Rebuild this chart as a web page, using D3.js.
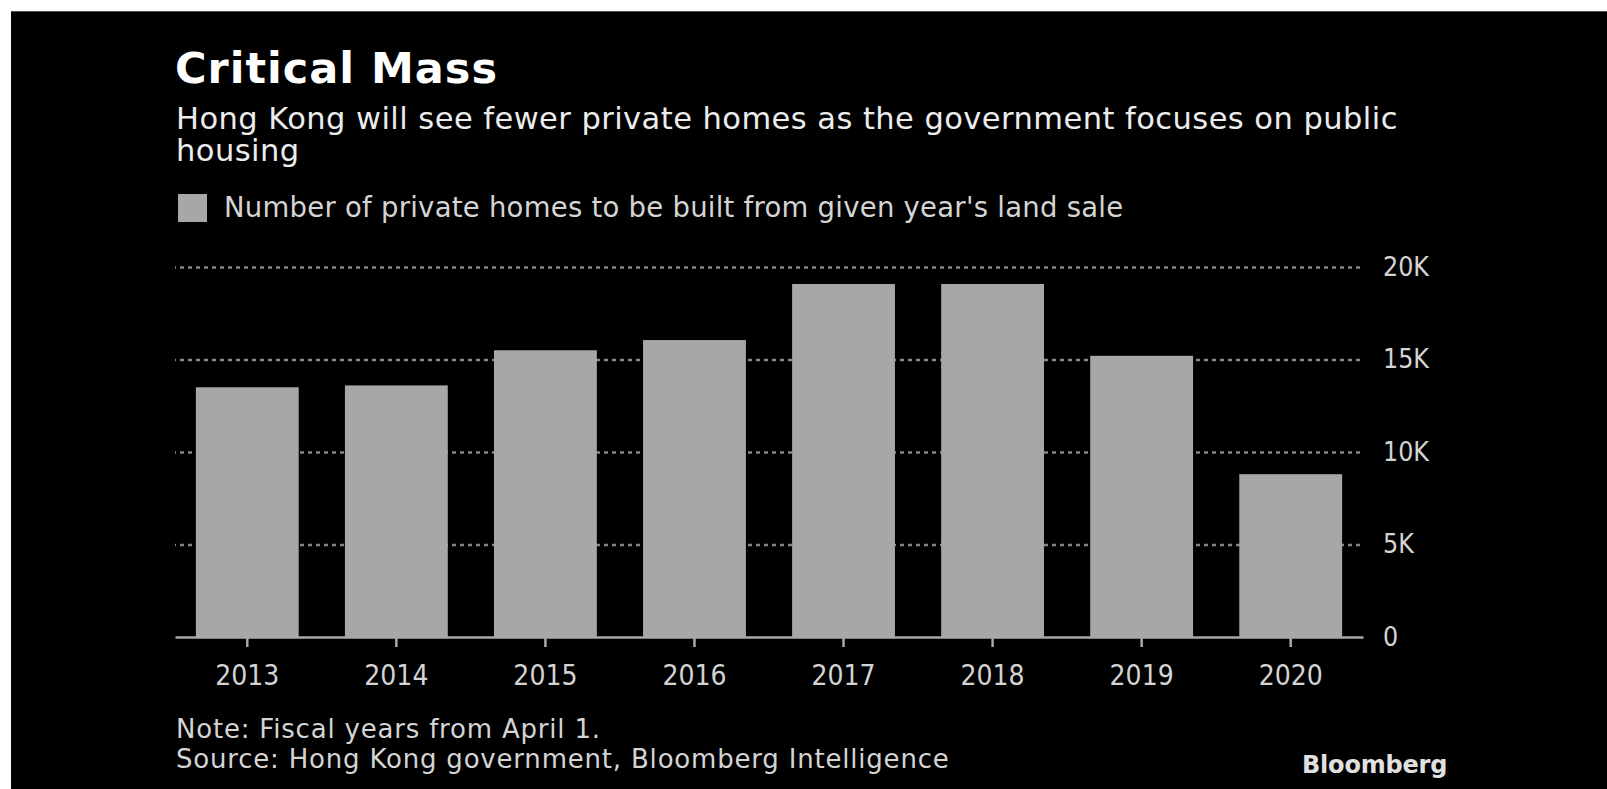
<!DOCTYPE html>
<html>
<head>
<meta charset="utf-8">
<script src="https://cdn.jsdelivr.net/npm/d3@7"></script>
<style>
  html, body { margin: 0; padding: 0; background: #fff; }
  svg { display: block; }
  .cond { font-family: "DejaVu Sans Condensed", "DejaVu Sans", sans-serif; font-stretch: condensed; }
  .reg { font-family: "DejaVu Sans", sans-serif; }
</style>
</head>
<body>
<svg id="chart"></svg>
<script>
// chart data
const years = ["2013", "2014", "2015", "2016", "2017", "2018", "2019", "2020"];
const homes = [13500, 13600, 15500, 16050, 19080, 19080, 15200, 8800];
const yTicks = [0, 5000, 10000, 15000, 20000];

const title = "Critical Mass";
const subtitle = ["Hong Kong will see fewer private homes as the government focuses on public", "housing"];
const legendLabel = "Number of private homes to be built from given year's land sale";
const notes = ["Note: Fiscal years from April 1.", "Source: Hong Kong government, Bloomberg Intelligence"];

const W = 1607, H = 789;
const plotLeft = 175, plotRight = 1363, gridRight = 1360;
const plotTop = 267, plotBottom = 637;
const barColor = "#a6a7a9";

const svg = d3.select("#chart")
    .attr("width", W)
    .attr("height", H);

// black panel with white margin top/left
svg.append("rect")
    .attr("x", 11).attr("y", 11)
    .attr("width", W - 11).attr("height", H - 11)
    .attr("fill", "#000");
svg.append("line")
    .attr("x1", 11).attr("x2", W)
    .attr("y1", 11.5).attr("y2", 11.5)
    .attr("stroke", "#555").attr("stroke-width", 1);

// headings
svg.append("text")
    .attr("x", 175).attr("y", 83)
    .attr("fill", "#fff")
    .style("font-family", "'DejaVu Sans', sans-serif")
    .style("font-weight", "bold")
    .style("font-size", "43px")
    .style("letter-spacing", "1px")
    .text(title);

svg.append("g").selectAll("text")
    .data(subtitle)
    .enter()
    .append("text")
    .attr("class", "reg")
    .attr("x", 176)
    .attr("y", (d, i) => 129 + i * 32)
    .attr("fill", "#ececec")
    .style("font-size", "30.5px")
    .style("letter-spacing", "0.45px")
    .text(d => d);

// legend
svg.append("rect")
    .attr("x", 178).attr("y", 194)
    .attr("width", 29).attr("height", 28)
    .attr("fill", barColor);
svg.append("text")
    .attr("class", "reg")
    .attr("x", 224).attr("y", 217)
    .attr("fill", "#d4d4d4")
    .style("font-size", "27.5px")
    .style("letter-spacing", "0.25px")
    .text(legendLabel);

// scales
const x = d3.scaleBand()
    .domain(years)
    .range([plotLeft, plotRight])
    .paddingInner(0.31)
    .paddingOuter(0.14);

const y = d3.scaleLinear()
    .domain([0, 20000])
    .range([plotBottom, plotTop]);

// y axis on the right, with dotted gridlines
const yAxis = svg.append("g")
    .attr("transform", `translate(${gridRight},0)`)
    .call(d3.axisRight(y)
        .tickValues(yTicks)
        .tickSize(-(gridRight - plotLeft))
        .tickPadding(23)
        .tickFormat(d => d === 0 ? "0" : (d / 1000) + "K"));
yAxis.attr("font-family", null).attr("font-size", null).attr("class", "cond");
yAxis.select(".domain").remove();
yAxis.selectAll(".tick line")
    .attr("stroke", "#858585")
    .attr("stroke-width", 2.5)
    .attr("stroke-dasharray", "4,4")
    .filter(d => d === 0).remove();
yAxis.selectAll(".tick text")
    .attr("fill", "#d4d4d4")
    .style("font-size", "26.5px");

// bars
svg.append("g").selectAll("rect")
    .data(years.map((yr, i) => ({year: yr, value: homes[i]})))
    .enter()
    .append("rect")
    .attr("x", d => x(d.year))
    .attr("y", d => y(d.value))
    .attr("width", x.bandwidth())
    .attr("height", d => plotBottom - y(d.value))
    .attr("fill", barColor);

// x axis
const xAxis = svg.append("g")
    .attr("transform", `translate(0,${plotBottom})`)
    .call(d3.axisBottom(x)
        .tickSize(10)
        .tickSizeOuter(0)
        .tickPadding(18));
xAxis.attr("font-family", null).attr("font-size", null).attr("class", "cond");
xAxis.select(".domain")
    .attr("stroke", "#a9a9a9")
    .attr("stroke-width", 2.5);
xAxis.selectAll(".tick line")
    .attr("stroke", "#a9a9a9")
    .attr("stroke-width", 2.5);
xAxis.selectAll(".tick text")
    .attr("fill", "#d4d4d4")
    .style("font-size", "28px");

// footnotes
svg.append("g").selectAll("text")
    .data(notes)
    .enter()
    .append("text")
    .attr("class", "reg")
    .attr("x", 176)
    .attr("y", (d, i) => 738 + i * 30)
    .attr("fill", "#d4d4d4")
    .style("font-size", "26px")
    .style("letter-spacing", "0.8px")
    .text(d => d);

svg.append("text")
    .attr("x", 1302).attr("y", 773)
    .attr("fill", "#e0e0e0")
    .style("font-family", "'DejaVu Sans', sans-serif")
    .style("font-weight", "bold")
    .style("font-size", "24px")
    .style("letter-spacing", "-0.2px")
    .text("Bloomberg");
</script>
</body>
</html>
